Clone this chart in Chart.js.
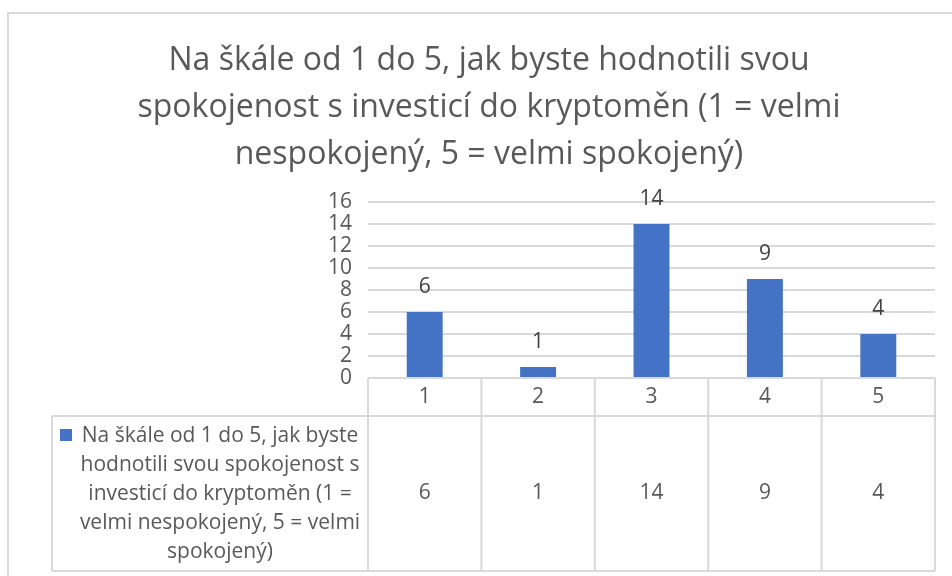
<!DOCTYPE html>
<html>
<head>
<meta charset="utf-8">
<script src="https://cdn.jsdelivr.net/npm/chart.js@4.4.1/dist/chart.umd.min.js"></script>
<style>
  html, body { margin: 0; padding: 0; background: #fff; overflow: hidden; }
  #wrap { position: relative; width: 952px; height: 576px; }
  #frame { position: absolute; left: 7px; top: 12px; width: 1000px; height: 1000px;
           border: 2px solid #d9d9d9; box-sizing: border-box; }
  canvas { position: absolute; left: 0; top: 0; }
</style>
</head>
<body>
<div id="wrap">
  <div id="frame"></div>
  <canvas id="chart" width="952" height="576"></canvas>
</div>
<script>
// data
const categories = ['1', '2', '3', '4', '5'];
const values = [6, 1, 14, 9, 4];
const titleLines = [
  'Na škále od 1 do 5, jak byste hodnotili svou',
  'spokojenost s investicí do kryptoměn (1 = velmi',
  'nespokojený, 5 = velmi spokojený)'
];
const seriesLines = [
  'Na škále od 1 do 5, jak byste',
  'hodnotili svou spokojenost s',
  'investicí do kryptoměn (1 =',
  'velmi nespokojený, 5 = velmi',
  'spokojený)'
];
const seriesName = seriesLines.join(' ');

const FONT = '"Open Sans"';
const SMALL = 21;
const BAR = '#4472C4';
const GRID = '#d9d9d9';
const TXT = '#595959';

// value labels above bars
const valueLabels = {
  id: 'valueLabels',
  afterDatasetsDraw(chart){
    const ctx = chart.ctx;
    const meta = chart.getDatasetMeta(0);
    ctx.save();
    ctx.font = SMALL + 'px ' + FONT;
    ctx.fillStyle = '#404040';
    ctx.textAlign = 'center';
    ctx.textBaseline = 'middle';
    meta.data.forEach((bar, i)=>{
      ctx.fillText(String(values[i]), bar.x, bar.y - 25);
    });
    ctx.restore();
  }
};

// data table under the plot (Excel style)
const dataTable = {
  id: 'dataTable',
  afterDraw(chart){
    const ctx = chart.ctx;
    const x = chart.scales.x;
    const area = chart.chartArea;
    const colW = (area.right - area.left) / categories.length;
    const top = area.bottom;
    const rowMid = top + 38;
    const bottom = top + 193;
    const legLeft = 52;

    ctx.save();
    ctx.strokeStyle = GRID;
    ctx.lineWidth = 2;
    ctx.beginPath();
    // horizontal lines
    ctx.moveTo(area.left, top); ctx.lineTo(area.right, top);
    ctx.moveTo(legLeft, rowMid); ctx.lineTo(area.right, rowMid);
    ctx.moveTo(legLeft, bottom); ctx.lineTo(area.right, bottom);
    // vertical lines
    ctx.moveTo(legLeft, rowMid); ctx.lineTo(legLeft, bottom);
    for(let i=0;i<=categories.length;i++){
      const px = area.left + i*colW;
      ctx.moveTo(px, top); ctx.lineTo(px, bottom);
    }
    ctx.stroke();

    ctx.font = SMALL + 'px ' + FONT;
    ctx.fillStyle = TXT;
    ctx.textAlign = 'center';
    ctx.textBaseline = 'middle';
    categories.forEach((c, i)=>{
      const cx = x.getPixelForValue(i);
      ctx.fillText(c, cx, (top + rowMid)/2);
      ctx.fillText(String(values[i]), cx, (rowMid + bottom)/2);
    });

    // legend key + series name
    ctx.fillStyle = BAR;
    ctx.fillRect(60, rowMid + 13, 12, 12);
    ctx.fillStyle = TXT;
    const cx = (72 + area.left)/2;
    seriesLines.forEach((line, i)=>{
      ctx.fillText(line, cx, rowMid + 20 + i*29);
    });
    ctx.restore();
  }
};

new Chart(document.getElementById('chart'), {
  type: 'bar',
  data: {
    labels: categories,
    datasets: [{
      label: seriesName,
      data: values,
      backgroundColor: BAR,
      barPercentage: 0.317,
      categoryPercentage: 1
    }]
  },
  options: {
    responsive: false,
    animation: false,
    layout: { padding: { left: 43, right: 17, top: 0, bottom: 198 } },
    plugins: {
      legend: { display: false },
      tooltip: { enabled: false },
      title: {
        display: true,
        text: titleLines,
        color: TXT,
        font: { family: FONT, size: 32, weight: 'normal', lineHeight: '47px' },
        padding: { top: 37, bottom: 24 }
      }
    },
    scales: {
      x: { display: false },
      y: {
        min: 0, max: 16,
        afterFit(s){ s.width = 325; },
        ticks: { stepSize: 2, autoSkip: false, color: TXT, font: { family: FONT, size: SMALL }, padding: 16 },
        grid: { color: GRID, lineWidth: 2, drawTicks: false },
        border: { display: false }
      }
    }
  },
  plugins: [valueLabels, dataTable]
});
</script>
</body>
</html>
